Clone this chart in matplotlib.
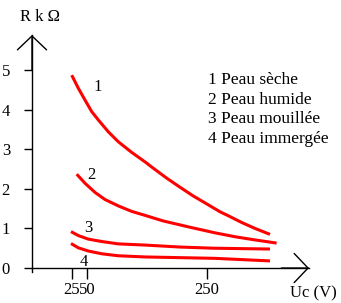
import matplotlib
matplotlib.use("Agg")
import matplotlib.pyplot as plt

# Courbes R = f(Uc) pour les 4 états de la peau
u1 = [24.5, 35.5, 46.7, 57.8, 68.8, 85.5, 102, 124.5, 146.7, 160.5, 182.8,
      205, 227, 249.5, 271.7, 285.5, 307.8, 330, 355]
r1 = [4.87, 4.54, 4.24, 3.95, 3.74, 3.44, 3.19, 2.92, 2.68, 2.52, 2.27,
      2.04, 1.82, 1.62, 1.42, 1.32, 1.15, 1.00, 0.85]

u2 = [32.8, 46.7, 63.3, 80, 102, 124.5, 146.7, 176.7, 221.7, 263, 296.7, 330, 366]
r2 = [2.37, 2.14, 1.91, 1.73, 1.57, 1.43, 1.33, 1.19, 1.03, 0.89, 0.79, 0.71, 0.63]

u3 = [23.3, 35.5, 52.2, 74.5, 102, 146.7, 205, 263, 355]
r3 = [0.92, 0.82, 0.73, 0.67, 0.61, 0.58, 0.53, 0.50, 0.48]

u4 = [23.3, 35.5, 52.2, 74.5, 102, 146.7, 263, 355]
r4 = [0.62, 0.51, 0.43, 0.36, 0.31, 0.28, 0.245, 0.18]

curves = [(u1, r1), (u2, r2), (u3, r3), (u4, r4)]
curve_labels = ["1", "2", "3", "4"]
label_pos = [(68, 4.57), (57, 2.35), (52, 1.01), (45, 0.15)]
legend_lines = ["1 Peau sèche", "2 Peau humide", "3 Peau mouillée", "4 Peau immergée"]

xticks = [25, 50, 250]
yticks = [0, 1, 2, 3, 4, 5]

plt.rcParams['font.family'] = ['Liberation Serif', 'DejaVu Serif']
FS = 12

fig = plt.figure(figsize=(3.41, 3.03), dpi=100)
ax = fig.add_axes([32/341, 1 - 272/303, 277/341, (272 - 35)/303])

for (u, r) in curves:
    ax.plot(u, r, color='#ff0000', lw=2.2, solid_capstyle='butt', solid_joinstyle='round')

for txt, (x, y) in zip(curve_labels, label_pos):
    ax.text(x, y, txt, fontsize=FS, ha='center', va='center')

ax.set_xlim(-41.7, 420)
ax.set_ylim(-0.1, 5.884)

for s in ['top', 'right']:
    ax.spines[s].set_visible(False)
ax.spines['bottom'].set_position(('data', 0))
ax.spines['left'].set_linewidth(1)
ax.spines['bottom'].set_linewidth(1)

ax.set_xticks(xticks)
ax.set_xticklabels([str(t) for t in xticks])
ax.set_yticks(yticks)
ax.tick_params(axis='y', length=5.8, width=1, pad=16, labelsize=FS)
ax.tick_params(axis='x', length=8, width=1, pad=2, labelsize=FS)
for lab in ax.get_yticklabels():
    lab.set_horizontalalignment('left')

# flèches des axes
arrow = dict(arrowstyle='->,head_length=1.0,head_width=1.05', mutation_scale=10,
             lw=1, color='black', shrinkA=0, shrinkB=0)
ax.annotate('', xy=(1, 0), xytext=(0.9, 0), xycoords=('axes fraction', 'data'),
            textcoords=('axes fraction', 'data'), arrowprops=arrow)
ax.annotate('', xy=(-41.7, 5.884), xytext=(-41.7, 5.0), xycoords='data',
            arrowprops=arrow, annotation_clip=False)

fig.text(20/341, 1 - 17/303, "R k Ω", fontsize=FS, va='center', ha='left')
fig.text(290/341, 1 - 293/303, "Uc (V)", fontsize=FS, va='center', ha='left')

for i, line in enumerate(legend_lines):
    fig.text(208/341, 1 - (80 + i * 19.7)/303, line, fontsize=12.5, va='center', ha='left')

fig.savefig("out.png", dpi=100)
